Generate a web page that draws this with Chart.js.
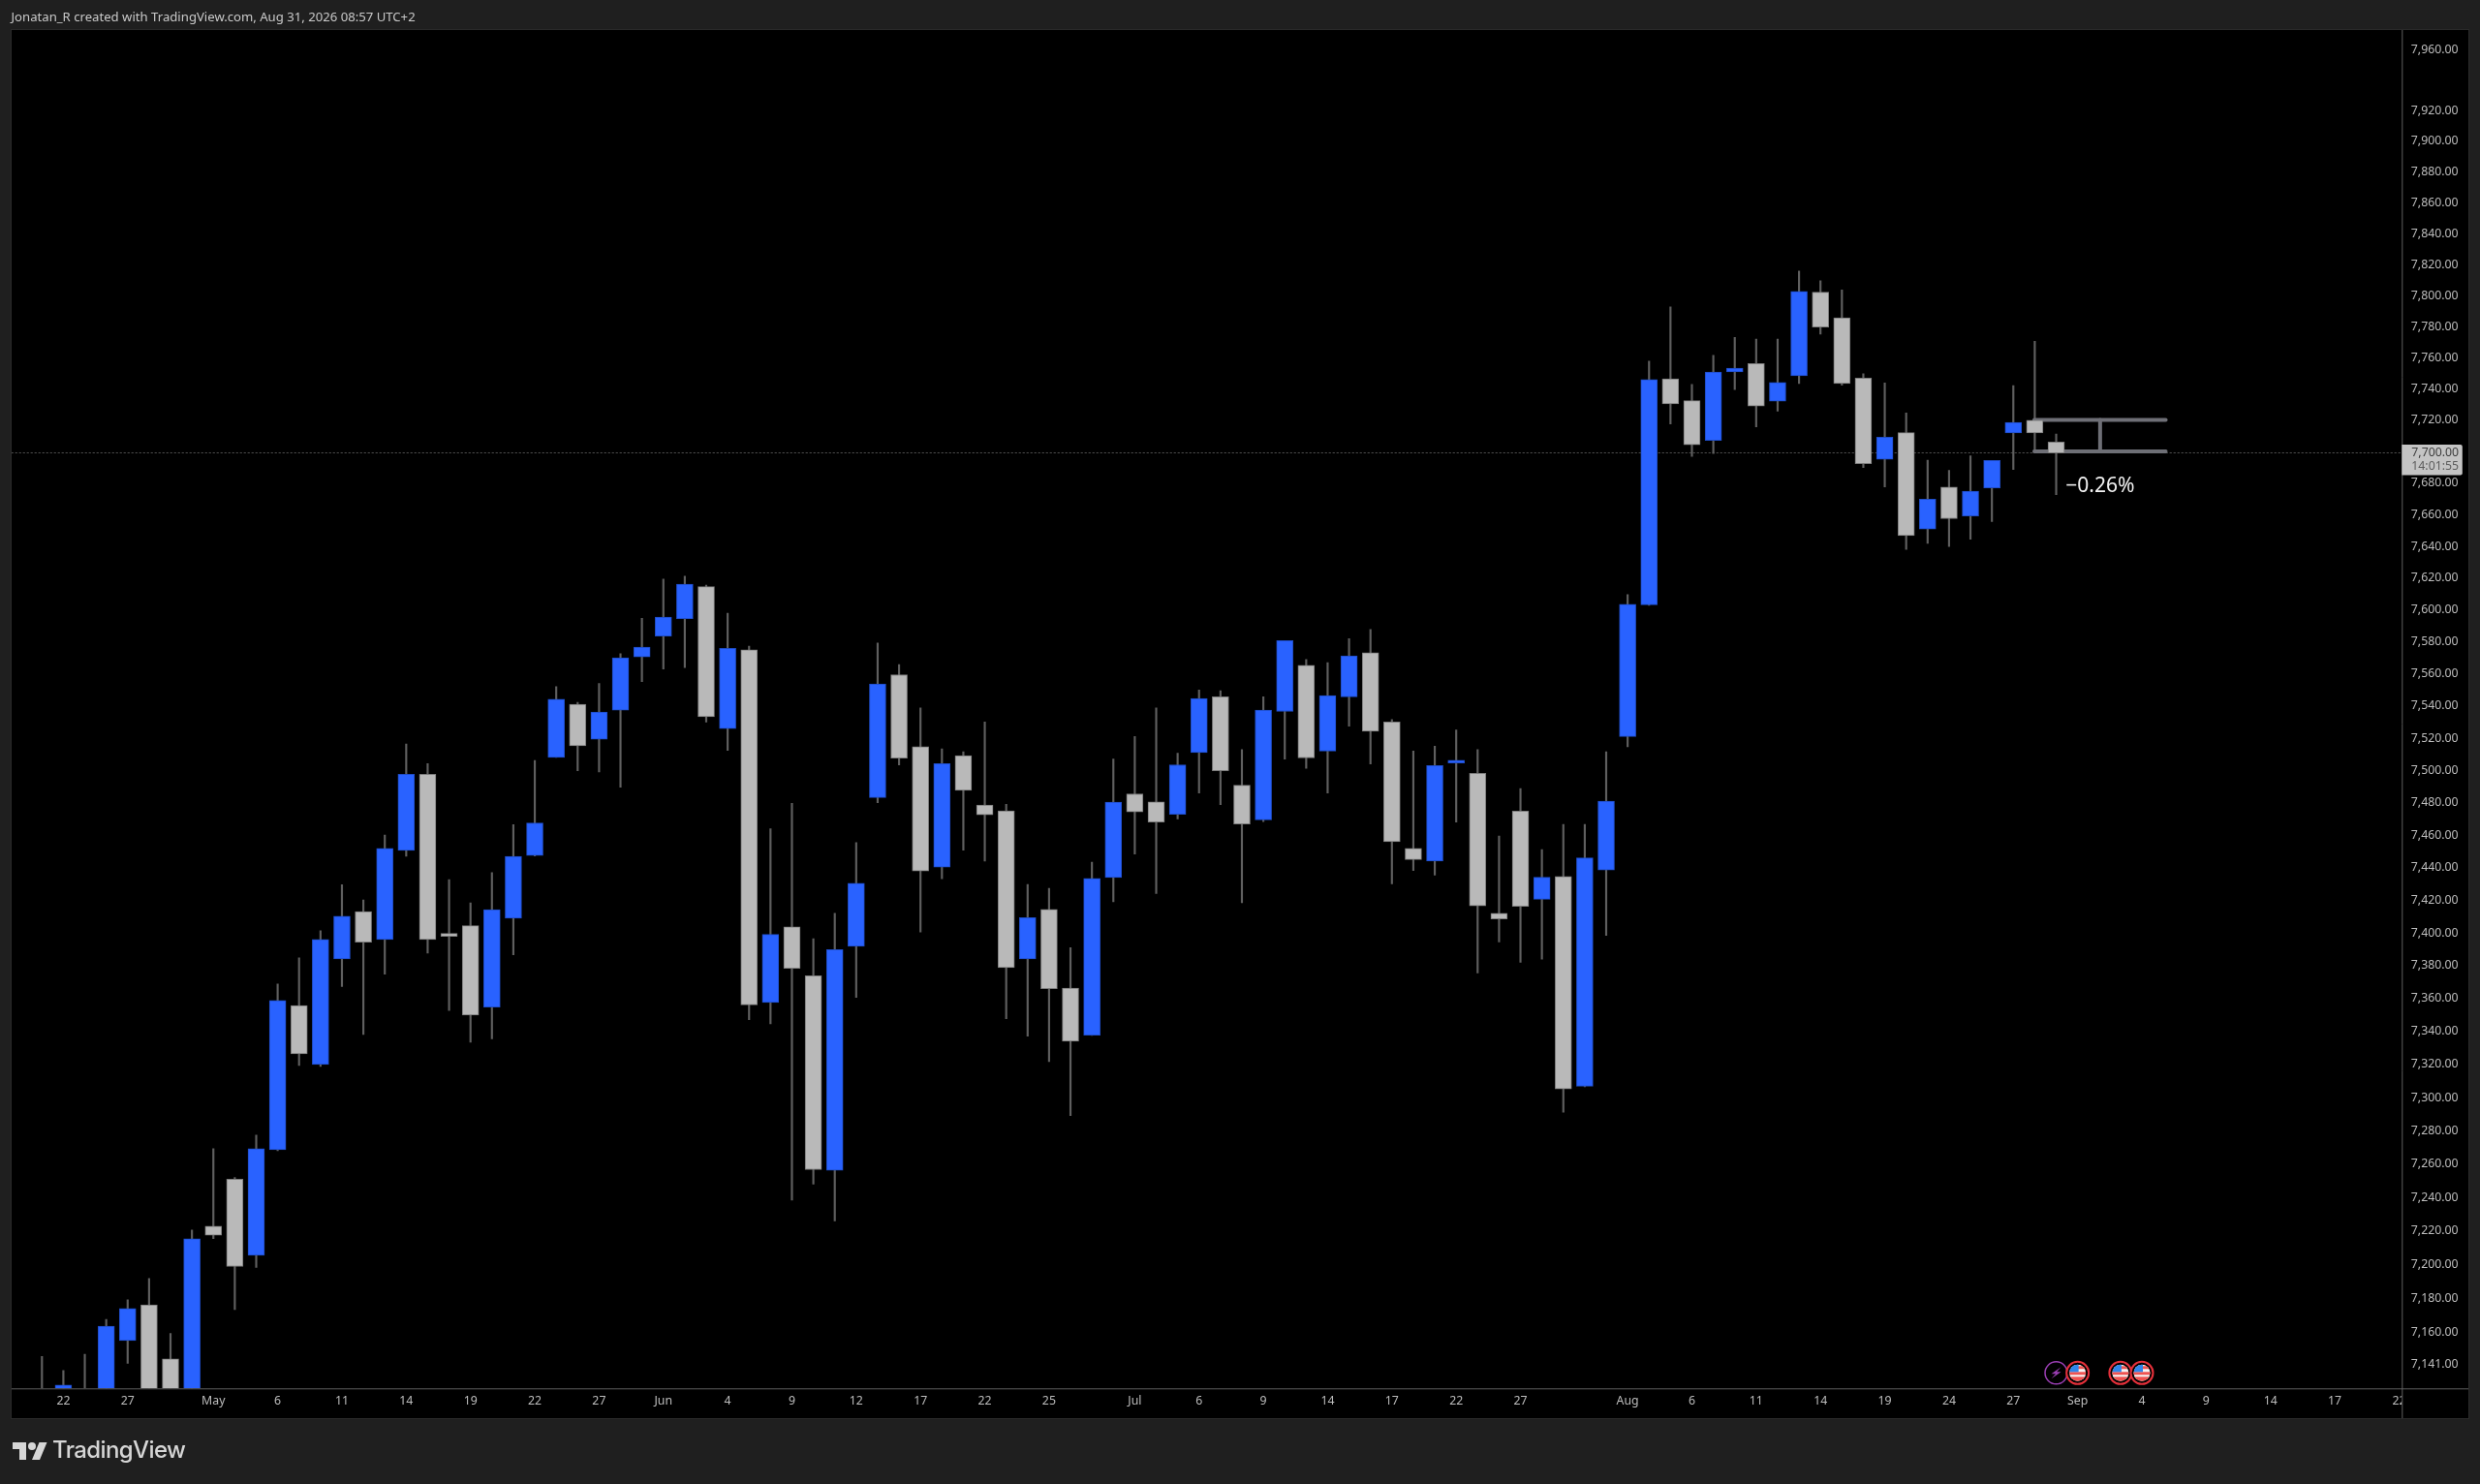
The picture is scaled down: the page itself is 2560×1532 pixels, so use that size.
<!DOCTYPE html>
<html>
<head>
<meta charset="utf-8">
<title>TradingView chart</title>
<script src="https://cdn.jsdelivr.net/npm/chart.js@4"></script>
<style>
  html, body { margin: 0; background: #1f1f1f; overflow: hidden; }
  #wrap { position: relative; width: 2560px; height: 1532px; }
  canvas { position: absolute; left: 0; top: 0; }
  #head { position: absolute; left: 11.5px; top: 8px; font: 13.15px "Noto Sans", sans-serif; color: #c8c8c8; white-space: nowrap; }
  #logo { position: absolute; left: 13px; top: 1485px; }
  #brand { position: absolute; left: 54px; top: 1482px; font: 500 24px Inter, sans-serif; letter-spacing: -0.6px; color: #d6d6d6; }
</style>
</head>
<body>
<div id="wrap">
  <canvas id="chart" width="2560" height="1532"></canvas>
  <div id="head">Jonatan_R created with TradingView.com, Aug 31, 2026 08:57 UTC+2</div>
  <svg id="logo" width="36" height="28" viewBox="0 0 36 28"><path fill="#d6d6d6" d="M14 22H7V11H0V4h14v18zM28 22h-8l7.5-18h8L28 22z"/><circle fill="#d6d6d6" cx="20" cy="8" r="4"/></svg>
  <div id="brand">TradingView</div>
</div>
<script>
// daily candles, one entry per bar (first few bodies sit below the axis)
const opens = [7118,7110,7120,7120,7155,7176.1,7144.2,7115,7222.9,7251,7205.5,7268.7,7355.8,7320,7384.2,7413,7396,7450.6,7497.6,7399.7,7404.4,7354.8,7409,7447.5,7508,7541,7519.3,7537.4,7570.6,7583.7,7594.6,7614.7,7526,7575,7357.6,7403.7,7373.9,7256.3,7391.8,7483.2,7559.5,7514.7,7440.3,7509.2,7478.6,7475,7384.1,7414.4,7366.4,7337.8,7433.9,7485.5,7480.5,7472.9,7511,7545.7,7490.8,7469.4,7536.6,7565.3,7512,7545.7,7573.3,7530,7451.8,7444.1,7504.6,7498.2,7412,7474.8,7420.6,7434.5,7306.9,7438.6,7521,7603.3,7746.5,7732.5,7707.2,7750.9,7756.3,7732.2,7748.5,7802.1,7785.6,7747,7695.2,7712.2,7651,7677.5,7659.2,7677,7712,7720,7706.1];
const highs = [7145.6,7137.3,7146.9,7167.5,7179.1,7191.8,7159.2,7220.6,7269.3,7252,7277.4,7368.8,7384.8,7401.3,7429.5,7420.1,7460,7516.4,7504.2,7432.6,7418.4,7436.9,7466.5,7506.2,7552,7542.2,7554,7572.6,7594.8,7619.4,7621.2,7615.6,7597.9,7577.3,7463.9,7479.6,7396.4,7412,7455.4,7579.3,7565.9,7538.8,7513.3,7511.6,7530.1,7479,7429.6,7427.3,7391,7443.3,7507,7521,7538.8,7510.6,7550,7549.5,7512.9,7545.8,7580.8,7569,7567,7582,7587.8,7531.5,7512,7515,7525.1,7512.9,7459.4,7488.8,7451.1,7466.6,7466.6,7511.6,7609.7,7757.8,7792.6,7743,7761.5,7773.1,7771.9,7771.9,7815.7,7809.5,7803.6,7749.7,7743.8,7724.7,7694.7,7688.2,7697.4,7694.5,7742.2,7770.6,7711.3];
const lows = [7100,7105,7105,7100,7141.5,7120,7105,7110,7215.5,7173.4,7198.4,7268.1,7319.4,7318.8,7367.3,7338.2,7374.9,7447,7387.7,7352.7,7333.5,7335.5,7386.7,7447.2,7508,7499.8,7499,7489.6,7555.2,7563,7564,7530,7512.4,7347.2,7344.7,7238.5,7248,7226,7360.7,7480,7503.4,7400.5,7433.2,7450.8,7444.1,7347.8,7337.2,7321.8,7289.2,7337.6,7419,7448.4,7424.1,7470,7486,7478.8,7418.5,7468.3,7507,7501.3,7486,7527.5,7504,7430.1,7438.2,7435.4,7468,7375.5,7394.5,7382,7384,7291.3,7306.6,7398.5,7514.6,7603,7717.7,7697,7698.9,7739.6,7715.9,7725.8,7743.5,7775.1,7742.5,7690,7677.7,7638.1,7642,7640,7644.6,7655.7,7688.8,7699.9,7672.8];
const closes = [7108,7128.8,7112,7163.5,7174,7118,7115,7215.4,7217.5,7198.9,7269.3,7358.8,7326.5,7396,7410.2,7394.4,7451.8,7497.6,7396,7397.9,7350,7414.2,7446.9,7467.5,7544.2,7515.3,7536.3,7570,7576.8,7595.5,7616.3,7533.3,7576,7356.2,7399.1,7378.4,7256.7,7389.8,7430.4,7553.7,7507.6,7438,7504.2,7487.6,7472.5,7378.8,7409.4,7366,7334.1,7433.4,7480.4,7474.4,7468,7503.5,7544.6,7499.8,7466.8,7537.4,7580.8,7507.7,7546.5,7571.3,7524.3,7456,7445,7503,7506.3,7416.6,7408.6,7416.2,7434.1,7305.2,7446,7481,7603.6,7746,7730.5,7704.4,7750.8,7753.4,7729.1,7744.2,7802.6,7779.7,7743.5,7692.4,7709.3,7646.9,7669.9,7657.5,7675,7694.5,7718.6,7712,7699.2];

const yTicks = [7960,7920,7900,7880,7860,7840,7820,7800,7780,7760,7740,7720,7700,7680,7660,7640,7620,7600,7580,7560,7540,7520,7500,7480,7460,7440,7420,7400,7380,7360,7340,7320,7300,7280,7260,7240,7220,7200,7180,7160,7141];
const xTickBars = [1,4,8,11,14,17,20,23,26,29,32,35,38,41,44,47,51,54,57,60,63,66,69,74,77,80,83,86,89,92,95,98,101,104,107,110];
const xTickLabels = ["22","27","May","6","11","14","19","22","27","Jun","4","9","12","17","22","25","Jul","6","9","14","17","22","27","Aug","6","11","14","19","24","27","Sep","4","9","14","17","22"];

const lastPrice = 7699.3;
const rangeTop = 7720.2;
const rangeBottom = 7700.2;
const rangeBars = [92.98, 96.05, 99.11];
const rangeText = "\u22120.26%";
const priceText = "7,700.00";
const countdownText = "14:01:55";
const eventBars = [94, 95, 97, 98];
const eventKinds = ["bolt", "flag", "flag", "flag"];

const BLUE = "#2962ff", GREY = "#b9b9b9";
const xMin = -1.415, xMax = 110.13;
const yMin = 7126.8, yMax = 7973.1;

const isUp = opens.map((o, i) => closes[i] >= o);

function lineSet(points, color, width, order, dash) {
  return {
    type: "line", data: points, order,
    borderColor: color, borderWidth: width, borderDash: dash || [],
    borderCapStyle: "round", pointRadius: 0, fill: false, tension: 0
  };
}

const overlays = {
  id: "overlays",
  beforeDraw(chart) {
    const c = chart.ctx;
    c.save();
    c.fillStyle = "#000";
    c.fillRect(12, 31, 2536, 1433);
    c.strokeStyle = "#2a2a2a";
    c.strokeRect(11.5, 30.5, 2537, 1434);
    c.restore();
  },
  afterDraw(chart) {
    const c = chart.ctx, a = chart.chartArea, xs = chart.scales.x, ys = chart.scales.y;
    c.save();
    // the last date label gets cut off by the price axis
    c.fillStyle = "#000";
    c.fillRect(a.right, a.bottom + 1, 68, 29);
    c.strokeStyle = "#5e5e5e";
    c.lineWidth = 1;
    c.beginPath();
    c.moveTo(a.right + 0.5, 31); c.lineTo(a.right + 0.5, 1464);
    c.moveTo(12, a.bottom + 0.5); c.lineTo(2548, a.bottom + 0.5);
    c.stroke();

    // price tag
    const py = ys.getPixelForValue(lastPrice);
    c.fillStyle = "#c4c4c4";
    c.beginPath();
    c.roundRect(a.right, py - 8.5, 62.5, 31.5, [0, 2, 2, 0]);
    c.fill();
    c.font = '12.3px "Noto Sans"';
    c.textAlign = "left";
    c.textBaseline = "middle";
    c.fillStyle = "#3c3c3c";
    c.fillText(priceText, a.right + 10, py);
    c.fillStyle = "#5c5c5c";
    c.fillText(countdownText, a.right + 10, py + 14);

    // range label
    c.font = '21px "Noto Sans"';
    c.textAlign = "center";
    c.fillStyle = "#f2f2f2";
    c.fillText(rangeText, xs.getPixelForValue(rangeBars[1]), ys.getPixelForValue(7678));

    // event icons along the bottom
    eventBars.forEach((b, i) => drawEvent(c, xs.getPixelForValue(b), a.bottom - 16, eventKinds[i]));
    c.restore();
  }
};

function drawEvent(c, x, y, kind) {
  c.save();
  c.beginPath();
  c.arc(x, y, 11.5, 0, Math.PI * 2);
  c.fillStyle = "#000";
  c.fill();
  if (kind === "bolt") {
    c.strokeStyle = "#9c3fb5";
    c.lineWidth = 1.5;
    c.stroke();
    c.fillStyle = "#9c3fb5";
    c.beginPath();
    c.moveTo(x + 5, y - 6); c.lineTo(x - 5, y + 1); c.lineTo(x - 0.5, y + 1);
    c.lineTo(x - 5, y + 6); c.lineTo(x + 5, y - 1); c.lineTo(x + 0.5, y - 1);
    c.closePath();
    c.fill();
  } else {
    c.strokeStyle = "#e5303a";
    c.lineWidth = 2;
    c.stroke();
    c.beginPath();
    c.arc(x, y, 8.5, 0, Math.PI * 2);
    c.clip();
    c.fillStyle = "#f5f5f5";
    c.fillRect(x - 9, y - 9, 18, 18);
    c.fillStyle = "#ef5350";
    c.fillRect(x - 9, y - 1, 18, 3);
    c.fillRect(x - 9, y + 4, 18, 5);
    c.fillRect(x, y - 7, 9, 3);
    c.fillStyle = "#2e86ea";
    c.fillRect(x - 9, y - 9, 10, 8);
  }
  c.restore();
}

new Chart(document.getElementById("chart"), {
  type: "bar",
  data: {
    datasets: [
      {
        label: "body",
        order: 1,
        data: opens.map((o, i) => ({ x: i, y: [o, closes[i]] })),
        barThickness: 17,
        grouped: false,
        borderSkipped: false,
        borderWidth: 1,
        backgroundColor: isUp.map(u => u ? BLUE : GREY),
        borderColor: isUp.map(u => u ? "#1f4cc4" : "#7c7c7c")
      },
      lineSet([{ x: rangeBars[0], y: rangeTop }, { x: rangeBars[2], y: rangeTop }], "#6e6f76", 4, 2),
      lineSet([{ x: rangeBars[0], y: rangeBottom }, { x: rangeBars[2], y: rangeBottom }], "#6e6f76", 4, 2),
      lineSet([{ x: rangeBars[1], y: rangeTop }, { x: rangeBars[1], y: rangeBottom }], "#6e6f76", 4, 2),
      {
        label: "wick",
        order: 3,
        data: lows.map((l, i) => ({ x: i, y: [l, highs[i]] })),
        barThickness: 1.5,
        grouped: false,
        borderWidth: 0,
        backgroundColor: "#5f5f5f"
      },
      lineSet([{ x: xMin, y: lastPrice }, { x: xMax, y: lastPrice }], "#4c4c4c", 1, 4, [1.5, 2.5])
    ]
  },
  options: {
    responsive: false,
    devicePixelRatio: 1,
    animation: false,
    layout: { padding: { left: 12, right: 12, top: 30.7, bottom: 68 } },
    plugins: { legend: { display: false }, tooltip: { enabled: false } },
    scales: {
      x: {
        type: "linear",
        min: xMin,
        max: xMax,
        offset: false,
        grid: { display: false, drawTicks: false },
        border: { display: false },
        afterBuildTicks: s => { s.ticks = xTickBars.map(v => ({ value: v })); },
        afterFit: s => { s.height = 30.7; },
        ticks: {
          autoSkip: false,
          maxRotation: 0,
          padding: 6,
          color: "#bdbdbd",
          font: { family: "Noto Sans", size: 12.3 },
          callback: v => xTickLabels[xTickBars.indexOf(v)]
        }
      },
      y: {
        type: "logarithmic",
        position: "right",
        min: yMin,
        max: yMax,
        grid: { display: false, drawTicks: false },
        border: { display: false },
        afterBuildTicks: s => { s.ticks = yTicks.map(v => ({ value: v })); },
        afterFit: s => { s.width = 68.7; },
        ticks: {
          autoSkip: false,
          padding: 9.5,
          color: "#bdbdbd",
          font: { family: "Noto Sans", size: 12.3 },
          callback: v => v.toLocaleString("en-US", { minimumFractionDigits: 2 })
        }
      }
    }
  },
  plugins: [overlays]
});
</script>
</body>
</html>
